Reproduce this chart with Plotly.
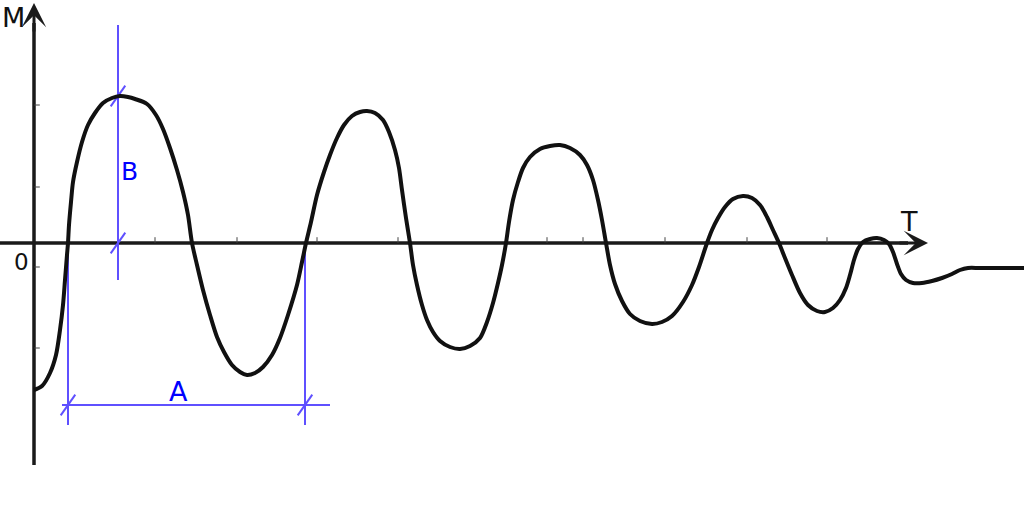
import plotly.graph_objects as go

# Damped oscillation curve (T along horizontal axis, M along vertical axis)
t_vals = [0, 8, 16, 22, 26, 29, 31, 33, 34, 35, 37, 39, 43, 48, 54, 61, 69, 78, 86, 94, 101,
          113, 122, 129, 136, 143, 149, 154, 158, 163, 169, 176, 183, 190, 198, 206, 213,
          221, 229, 238, 246, 254, 263, 268, 272, 277, 283, 290, 296, 303, 310, 318, 326,
          333, 341, 349, 355, 361, 365, 368, 372, 376, 379, 383, 388, 393, 399, 406, 416,
          426, 436, 446, 453, 459, 464, 468, 472, 475, 479, 484, 489, 496, 506, 516, 526,
          536, 546, 553, 559, 564, 568, 572, 576, 581, 588, 596, 606, 618, 628, 638, 649,
          658, 665, 673, 678, 684, 691, 699, 709, 718, 726, 733, 739, 745, 751, 758, 766,
          774, 783, 791, 799, 806, 812, 816, 820, 824, 829, 836, 843, 850, 855, 859, 863,
          867, 872, 879, 888, 898, 908, 918, 926, 934, 946, 990]
m_vals = [-147, -143, -130, -112, -87, -62, -37, -12, 0, 18, 41, 61, 81, 101, 118, 130, 140, 145, 147, 146, 144,
          139, 128, 114, 95, 73, 51, 28, 0, -22, -47, -72, -94, -109, -122, -129, -132,
          -130, -124, -112, -95, -72, -42, -19, 0, 21, 48, 71, 88, 105, 118, 127, 131,
          132, 130, 123, 111, 93, 75, 53, 25, 0, -22, -42, -62, -77, -89, -98, -104,
          -106, -103, -95, -79, -60, -40, -22, 0, 21, 43, 61, 75, 86, 94, 97, 98,
          95, 88, 78, 63, 43, 23, 0, -22, -41, -58, -71, -78, -81, -79, -73, -59,
          -42, -24, 0, 13, 25, 36, 44, 47, 45, 38, 26, 13, 0, -15, -32, -50,
          -62, -68, -69, -65, -57, -45, -32, -17, -6, 1, 4, 5, 3, -1, -9, -21,
          -31, -37, -40, -40, -38, -35, -31, -27, -25, -25, -25]

# Axes extents
t_axis = [-34, 894]
m_axis = [-222, 240]

# Faint tick marks on the axes
t_ticks = [121, 203, 283, 364, 513, 549, 631, 713, 793]
m_ticks = [138, 56, -24, -105]

# Dimension B (peak amplitude) and A (period)
b_t = 84
b_line = [218, -37]
b_marks = [147, 0]
a_m = -162
a_line = [28, 296]
a_verticals = [34, 271]
a_vertical_end = -182

AX = "#1a1a1a"
BLUE_LINE = "rgb(95,80,255)"
BLUE_TEXT = "rgb(0,0,255)"
FONT = "DejaVu Sans"

fig = go.Figure()

# axis lines
fig.add_trace(go.Scatter(x=[t_axis[0], t_axis[1] - 20], y=[0, 0], mode="lines",
                         line=dict(color=AX, width=3.5), hoverinfo="skip"))
fig.add_trace(go.Scatter(x=[0, 0], y=[m_axis[0], m_axis[1] - 20], mode="lines",
                         line=dict(color=AX, width=3.5), hoverinfo="skip"))
# ticks
fig.add_trace(go.Scatter(x=t_ticks, y=[3] * len(t_ticks), mode="markers",
                         marker=dict(symbol="line-ns", size=4, line=dict(color="#444", width=1)),
                         hoverinfo="skip"))
fig.add_trace(go.Scatter(x=[3] * len(m_ticks), y=m_ticks, mode="markers",
                         marker=dict(symbol="line-ew", size=4, line=dict(color="#444", width=1)),
                         hoverinfo="skip"))

# blue dimension lines
fig.add_trace(go.Scatter(x=[b_t, b_t], y=b_line, mode="lines",
                         line=dict(color=BLUE_LINE, width=2), hoverinfo="skip"))
fig.add_trace(go.Scatter(x=a_line, y=[a_m, a_m], mode="lines",
                         line=dict(color=BLUE_LINE, width=2), hoverinfo="skip"))
for tv in a_verticals:
    fig.add_trace(go.Scatter(x=[tv, tv], y=[0, a_vertical_end], mode="lines",
                             line=dict(color=BLUE_LINE, width=2), hoverinfo="skip"))
fig.add_trace(go.Scatter(x=[b_t] * len(b_marks) + a_verticals,
                         y=b_marks + [a_m] * len(a_verticals), mode="markers",
                         marker=dict(symbol="line-ne", size=18, angle=-10,
                                     line=dict(color=BLUE_LINE, width=2)),
                         hoverinfo="skip"))

# main curve
fig.add_trace(go.Scatter(x=t_vals, y=m_vals, mode="lines",
                         line=dict(color="#111111", width=4, shape="spline", smoothing=0.8),
                         hoverinfo="skip"))

# arrow heads
fig.add_annotation(x=t_axis[1], y=0, ax=t_axis[1] - 30, ay=0, xref="x", yref="y",
                   axref="x", ayref="y", showarrow=True, arrowhead=3, arrowsize=1.35,
                   arrowwidth=3, arrowcolor=AX, text="")
fig.add_annotation(x=0, y=m_axis[1], ax=0, ay=m_axis[1] - 30, xref="x", yref="y",
                   axref="x", ayref="y", showarrow=True, arrowhead=3, arrowsize=1.35,
                   arrowwidth=3, arrowcolor=AX, text="")

labels = [("M", -21, 226, 27, "#111"), ("0", -13, -19, 23, "#111"), ("T", 875, 22, 27, "#111"),
          ("B", 95, 72, 25, BLUE_TEXT), ("A", 144, -148, 27, BLUE_TEXT)]
for txt, x, y, s, c in labels:
    fig.add_annotation(x=x, y=y, text=txt, showarrow=False, xref="x", yref="y",
                       font=dict(family=FONT, size=s, color=c))

fig.update_layout(width=1024, height=512, margin=dict(l=0, r=0, t=0, b=0),
                  paper_bgcolor="white", plot_bgcolor="white", showlegend=False,
                  xaxis=dict(range=[-34, 990], visible=False, fixedrange=True),
                  yaxis=dict(range=[-269, 243], visible=False, fixedrange=True))

fig.write_html("out.html", config={"displayModeBar": False},
               post_script="document.body.style.margin='0';")
